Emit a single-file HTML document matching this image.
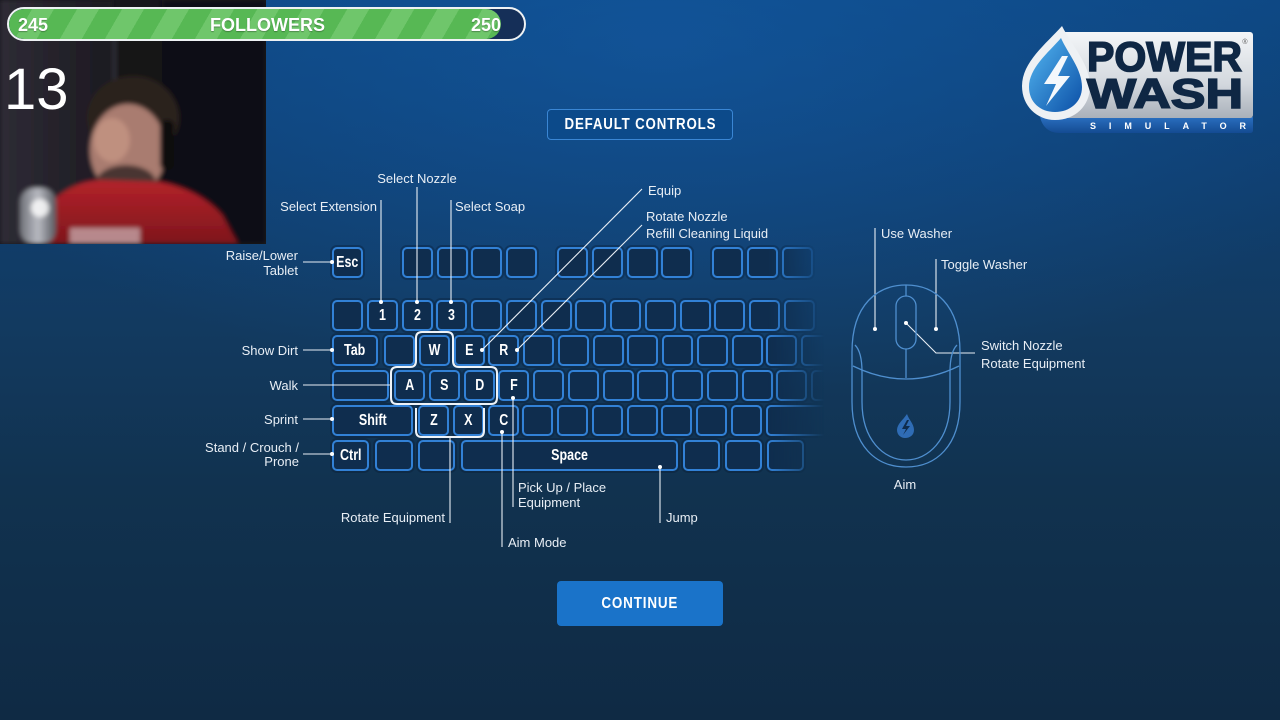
<!DOCTYPE html>
<html><head><meta charset="utf-8">
<style>
html,body{margin:0;padding:0;}
body{width:1280px;height:720px;overflow:hidden;position:relative;font-family:"Liberation Sans",sans-serif;
background:radial-gradient(ellipse 760px 360px at 660px 40px, rgba(20,92,168,.6), rgba(20,92,168,0) 100%),linear-gradient(180deg,#0d4680 0%,#0f3f71 22%,#123a60 45%,#11324f 68%,#0f2a44 100%);}
.abs{position:absolute;}
.lbl{position:absolute;color:#e8eef5;font-size:13px;line-height:15px;white-space:nowrap;}
.r{text-align:right;}
.kb{position:absolute;left:0;top:0;width:1280px;height:720px;-webkit-mask-image:linear-gradient(to right,#000 768px,rgba(0,0,0,0) 824px);mask-image:linear-gradient(to right,#000 768px,rgba(0,0,0,0) 824px);}
.k{position:absolute;box-sizing:border-box;width:31px;height:31px;border:2px solid #3281d6;border-radius:5px;background:#0f2d4e;box-shadow:0 0 0 2px rgba(9,26,48,.35);color:#fff;font-weight:bold;font-size:16px;display:flex;align-items:center;justify-content:center;}
.k span{display:inline-block;transform:scaleX(.78);}
</style></head><body>

<!-- webcam -->
<svg class="abs" style="left:0;top:0" width="266" height="244" viewBox="0 0 266 244">
<defs>
<linearGradient id="wl" x1="0" y1="0" x2="1" y2="0"><stop offset="0" stop-color="#2e2b35"/><stop offset="1" stop-color="#1c1a21"/></linearGradient>
<linearGradient id="sh" x1="0" y1="0" x2="0" y2="1"><stop offset="0" stop-color="#b3222a"/><stop offset="1" stop-color="#7e161c"/></linearGradient>
<linearGradient id="mic" x1="0" y1="0" x2="1" y2="0"><stop offset="0" stop-color="#6f7178"/><stop offset=".5" stop-color="#b9bbc2"/><stop offset="1" stop-color="#55575e"/></linearGradient>
<filter id="bl"><feGaussianBlur stdDeviation="2.5"/></filter>
</defs>
<rect width="266" height="244" fill="#17161c"/>
<g filter="url(#bl)">
<rect x="0" y="0" width="112" height="244" fill="url(#wl)"/>
<rect x="112" y="30" width="50" height="214" fill="#151419"/>
<rect x="113" y="30" width="3" height="120" fill="#35323c"/>
<rect x="162" y="0" width="104" height="244" fill="#111015"/>
<ellipse cx="133" cy="118" rx="46" ry="42" fill="#2b221e"/>
<ellipse cx="128" cy="150" rx="38" ry="46" fill="#a97c70"/>
<ellipse cx="112" cy="140" rx="18" ry="22" fill="#bf907f"/>
<ellipse cx="126" cy="183" rx="30" ry="18" fill="#4a3430"/>
<rect x="160" y="120" width="14" height="50" rx="6" fill="#0b0b0e"/>
<path d="M30 244 L48 205 Q70 182 100 180 L160 182 Q200 190 222 215 L238 244 Z" fill="url(#sh)"/>
<rect x="70" y="228" width="70" height="16" fill="#d9d4d6" opacity=".6"/>
<rect x="20" y="188" width="36" height="56" rx="14" fill="url(#mic)"/>
<circle cx="40" cy="208" r="9" fill="#ffffff" opacity=".8"/>
</g>
</svg>
<div class="abs" style="left:4px;top:58px;color:#fff;font-size:58px;line-height:64px;">13</div>

<!-- followers bar -->
<div class="abs" style="left:7px;top:7px;width:519px;height:34px;box-sizing:border-box;border:2px solid #eef2f4;border-radius:17px;background:#152f58;overflow:hidden;">
  <div class="abs" style="left:0;top:0;width:492px;height:30px;border-radius:15px;background:repeating-linear-gradient(120deg,#57b854 0 20px,#6fc66b 20px 39px);"></div>
  <div class="abs" style="left:9px;top:6px;color:#fff;font-weight:bold;font-size:18px;line-height:20px;text-shadow:0 1px 1px rgba(0,0,0,.3)">245</div>
  <div class="abs" style="left:0;width:517px;top:6px;text-align:center;color:#fff;font-weight:bold;font-size:18px;line-height:20px;text-shadow:0 1px 1px rgba(0,0,0,.3)">FOLLOWERS</div>
  <div class="abs" style="left:462px;top:6px;color:#fff;font-weight:bold;font-size:18px;line-height:20px;text-shadow:0 1px 1px rgba(0,0,0,.3)">250</div>
</div>

<!-- logo -->
<svg class="abs" style="left:1015px;top:20px" width="245" height="120" viewBox="1015 20 245 120">
<defs>
<linearGradient id="pl" x1="0" y1="0" x2="0" y2="1"><stop offset="0" stop-color="#f4f6f8"/><stop offset=".6" stop-color="#d3d8de"/><stop offset="1" stop-color="#aab1ba"/></linearGradient>
<linearGradient id="bs" x1="0" y1="0" x2="0" y2="1"><stop offset="0" stop-color="#2a6fc0"/><stop offset="1" stop-color="#144b92"/></linearGradient>
<linearGradient id="dr" x1="0" y1="0" x2="1" y2="1"><stop offset="0" stop-color="#55b8f2"/><stop offset="1" stop-color="#0b4fa6"/></linearGradient>
</defs>
<path d="M1040 117 L1253 117 L1253 130 Q1253 133 1250 133 L1060 133 Q1044 133 1040 117 Z" fill="url(#bs)"/>
<rect x="1062" y="32" width="191" height="86" rx="3" fill="url(#pl)"/>
<path d="M1062 26 C1046 44 1022 62 1022 86 C1022 106 1037 120 1055 120 C1075 120 1090 106 1090 86 C1090 64 1072 46 1062 26 Z" fill="#eef1f4"/>
<path d="M1061 38 C1048 53 1029 68 1029 87 C1029 102 1040 112 1055 112 C1070 112 1082 102 1082 87 C1082 69 1068 54 1061 38 Z" fill="url(#dr)"/>
<path d="M1062 56 L1044 84 L1056 84 L1046 106 L1070 76 L1058 76 L1068 56 Z" fill="#f4f8fc"/>
<text x="1087" y="71" font-family="Liberation Sans" font-weight="bold" font-size="42" fill="#0f2744" stroke="#0f2744" stroke-width="1.6" textLength="155" lengthAdjust="spacingAndGlyphs">POWER</text>
<text x="1087" y="108" font-family="Liberation Sans" font-weight="bold" font-size="42" fill="#0f2744" stroke="#0f2744" stroke-width="1.6" textLength="156" lengthAdjust="spacingAndGlyphs">WASH</text>
<text x="1245" y="44" font-family="Liberation Sans" font-size="7" fill="#555" text-anchor="middle">®</text>
<text x="1090" y="129" font-family="Liberation Sans" font-weight="bold" font-size="9" fill="#fff" textLength="156" lengthAdjust="spacing">SIMULATOR</text>
</svg>

<!-- title -->
<div class="abs" style="left:547px;top:109px;width:186px;height:31px;box-sizing:border-box;border:1.5px solid #3a86d4;border-radius:4px;background:#0c4a8a;display:flex;align-items:center;justify-content:center;">
<span style="display:inline-block;transform:scaleX(.83);color:#fff;font-weight:bold;font-size:16px;letter-spacing:1px;">DEFAULT CONTROLS</span></div>

<!-- continue -->
<div class="abs" style="left:557px;top:581px;width:166px;height:45px;border-radius:4px;background:#1a73c9;display:flex;align-items:center;justify-content:center;">
<span style="display:inline-block;transform:scaleX(.84);color:#fff;font-weight:bold;font-size:16px;letter-spacing:1px;">CONTINUE</span></div>

<!-- keyboard -->
<div class="kb">
<div class="k" style="left:332px;top:247px"><span>Esc</span></div>
<div class="k" style="left:402px;top:247px"></div>
<div class="k" style="left:437px;top:247px"></div>
<div class="k" style="left:471px;top:247px"></div>
<div class="k" style="left:506px;top:247px"></div>
<div class="k" style="left:557px;top:247px"></div>
<div class="k" style="left:592px;top:247px"></div>
<div class="k" style="left:627px;top:247px"></div>
<div class="k" style="left:661px;top:247px"></div>
<div class="k" style="left:712px;top:247px"></div>
<div class="k" style="left:747px;top:247px"></div>
<div class="k" style="left:782px;top:247px"></div>
<div class="k" style="left:332px;top:300px"></div>
<div class="k" style="left:367px;top:300px"><span>1</span></div>
<div class="k" style="left:402px;top:300px"><span>2</span></div>
<div class="k" style="left:436px;top:300px"><span>3</span></div>
<div class="k" style="left:471px;top:300px"></div>
<div class="k" style="left:506px;top:300px"></div>
<div class="k" style="left:541px;top:300px"></div>
<div class="k" style="left:575px;top:300px"></div>
<div class="k" style="left:610px;top:300px"></div>
<div class="k" style="left:645px;top:300px"></div>
<div class="k" style="left:680px;top:300px"></div>
<div class="k" style="left:714px;top:300px"></div>
<div class="k" style="left:749px;top:300px"></div>
<div class="k" style="left:784px;top:300px"></div>
<div class="k" style="left:332px;top:335px;width:46px"><span>Tab</span></div>
<div class="k" style="left:384px;top:335px"></div>
<div class="k" style="left:419px;top:335px"><span>W</span></div>
<div class="k" style="left:454px;top:335px"><span>E</span></div>
<div class="k" style="left:488px;top:335px"><span>R</span></div>
<div class="k" style="left:523px;top:335px"></div>
<div class="k" style="left:558px;top:335px"></div>
<div class="k" style="left:593px;top:335px"></div>
<div class="k" style="left:627px;top:335px"></div>
<div class="k" style="left:662px;top:335px"></div>
<div class="k" style="left:697px;top:335px"></div>
<div class="k" style="left:732px;top:335px"></div>
<div class="k" style="left:766px;top:335px"></div>
<div class="k" style="left:801px;top:335px"></div>
<div class="k" style="left:332px;top:370px;width:57px"></div>
<div class="k" style="left:394px;top:370px"><span>A</span></div>
<div class="k" style="left:429px;top:370px"><span>S</span></div>
<div class="k" style="left:464px;top:370px"><span>D</span></div>
<div class="k" style="left:498px;top:370px"><span>F</span></div>
<div class="k" style="left:533px;top:370px"></div>
<div class="k" style="left:568px;top:370px"></div>
<div class="k" style="left:603px;top:370px"></div>
<div class="k" style="left:637px;top:370px"></div>
<div class="k" style="left:672px;top:370px"></div>
<div class="k" style="left:707px;top:370px"></div>
<div class="k" style="left:742px;top:370px"></div>
<div class="k" style="left:776px;top:370px"></div>
<div class="k" style="left:811px;top:370px"></div>
<div class="k" style="left:332px;top:405px;width:81px"><span>Shift</span></div>
<div class="k" style="left:418px;top:405px"><span>Z</span></div>
<div class="k" style="left:453px;top:405px"><span>X</span></div>
<div class="k" style="left:488px;top:405px"><span>C</span></div>
<div class="k" style="left:522px;top:405px"></div>
<div class="k" style="left:557px;top:405px"></div>
<div class="k" style="left:592px;top:405px"></div>
<div class="k" style="left:627px;top:405px"></div>
<div class="k" style="left:661px;top:405px"></div>
<div class="k" style="left:696px;top:405px"></div>
<div class="k" style="left:731px;top:405px"></div>
<div class="k" style="left:766px;top:405px;width:70px"></div>
<div class="k" style="left:332px;top:440px;width:37px"><span>Ctrl</span></div>
<div class="k" style="left:375px;top:440px;width:38px"></div>
<div class="k" style="left:418px;top:440px;width:37px"></div>
<div class="k" style="left:461px;top:440px;width:217px"><span>Space</span></div>
<div class="k" style="left:683px;top:440px;width:37px"></div>
<div class="k" style="left:725px;top:440px;width:37px"></div>
<div class="k" style="left:767px;top:440px;width:37px"></div>
</div>

<!-- lines, outlines, mouse -->
<svg class="abs" style="left:0;top:0" width="1280" height="720" viewBox="0 0 1280 720">
<g fill="none" stroke="#eef3f8" stroke-width="2">
<path d="M422 332 H447 Q453 332 453 338 V361 Q453 367 459 367 H491 Q497 367 497 373 V398 Q497 404 491 404 H397 Q391 404 391 398 V373 Q391 367 397 367 H410 Q416 367 416 361 V338 Q416 332 422 332 Z"/>
<path d="M416 408 V431 Q416 437 422 437 H478 Q484 437 484 431 V408"/>
</g>
<g fill="none" stroke="#e8eef5" stroke-width="1.1">
<line x1="303" y1="262" x2="332" y2="262"/>
<line x1="303" y1="350" x2="332" y2="350"/>
<line x1="303" y1="385" x2="391" y2="385"/>
<line x1="303" y1="419" x2="332" y2="419"/>
<line x1="303" y1="454" x2="332" y2="454"/>
<line x1="381" y1="200" x2="381" y2="302"/>
<line x1="417" y1="187" x2="417" y2="302"/>
<line x1="451" y1="200" x2="451" y2="302"/>
<line x1="642" y1="189" x2="482" y2="350"/>
<line x1="642" y1="225" x2="517" y2="350"/>
<line x1="450" y1="437" x2="450" y2="523"/>
<line x1="513" y1="398" x2="513" y2="507"/>
<line x1="502" y1="432" x2="502" y2="547"/>
<line x1="660" y1="467" x2="660" y2="523"/>
<line x1="875" y1="228" x2="875" y2="329"/>
<line x1="936" y1="259" x2="936" y2="329"/>
<polyline points="906,323 936,353 975,353"/>
</g>
<g fill="#ffffff">
<circle cx="332" cy="262" r="2"/><circle cx="332" cy="350" r="2"/><circle cx="332" cy="419" r="2"/><circle cx="332" cy="454" r="2"/>
<circle cx="381" cy="302" r="2"/><circle cx="417" cy="302" r="2"/><circle cx="451" cy="302" r="2"/>
<circle cx="482" cy="350" r="2"/><circle cx="517" cy="350" r="2"/>
<circle cx="513" cy="398" r="2"/><circle cx="502" cy="432" r="2"/><circle cx="660" cy="467" r="2"/>
<circle cx="875" cy="329" r="2"/><circle cx="936" cy="329" r="2"/><circle cx="906" cy="323" r="2"/>
</g>
<g fill="none" stroke="#4f8fcf" stroke-width="1.3">
<path d="M852 352 C852 304 878 285 906 285 C934 285 960 304 960 352 L960 402 C960 446 936 467 906 467 C876 467 852 446 852 402 Z"/>
<path d="M855 345 Q862 352 862 372 L862 402 C862 440 884 460 906 460 C928 460 950 440 950 402 L950 372 Q950 352 957 345"/>
<path d="M853 366 Q906 392 959 366"/>
<line x1="906" y1="285" x2="906" y2="296"/>
<line x1="906" y1="349" x2="906" y2="378"/>
<rect x="896" y="296" width="20" height="53" rx="10"/>
</g>
<path d="M907 414 C903 420 897 424 897 430 C897 435 901 438 905 438 C910 438 914 435 914 430 C914 424 909 420 907 414 Z" fill="#2f6cb5"/>
<path d="M907 420 L902 429 L906 429 L903 435 L910 426 L906 426 L909 420 Z" fill="#0f2c4d"/>
</svg>

<!-- labels -->
<div class="lbl" style="left:357px;width:120px;top:171px;text-align:center">Select Nozzle</div>
<div class="lbl r" style="left:257px;width:120px;top:199px">Select Extension</div>
<div class="lbl" style="left:455px;top:199px">Select Soap</div>
<div class="lbl r" style="left:178px;width:120px;top:248px">Raise/Lower<br>Tablet</div>
<div class="lbl r" style="left:178px;width:120px;top:343px">Show Dirt</div>
<div class="lbl r" style="left:178px;width:120px;top:378px">Walk</div>
<div class="lbl r" style="left:178px;width:120px;top:412px">Sprint</div>
<div class="lbl r" style="left:179px;width:120px;top:441px;line-height:14px">Stand / Crouch /<br>Prone</div>
<div class="lbl" style="left:648px;top:183px">Equip</div>
<div class="lbl" style="left:646px;top:208px;line-height:17px">Rotate Nozzle<br>Refill Cleaning Liquid</div>
<div class="lbl r" style="left:305px;width:140px;top:510px">Rotate Equipment</div>
<div class="lbl" style="left:518px;top:481px;line-height:14.5px">Pick Up / Place<br>Equipment</div>
<div class="lbl" style="left:508px;top:535px">Aim Mode</div>
<div class="lbl" style="left:666px;top:510px">Jump</div>
<div class="lbl" style="left:881px;top:226px">Use Washer</div>
<div class="lbl" style="left:941px;top:257px">Toggle Washer</div>
<div class="lbl" style="left:981px;top:337px;line-height:17.5px">Switch Nozzle<br>Rotate Equipment</div>
<div class="lbl" style="left:865px;width:80px;top:477px;text-align:center">Aim</div>

</body></html>
